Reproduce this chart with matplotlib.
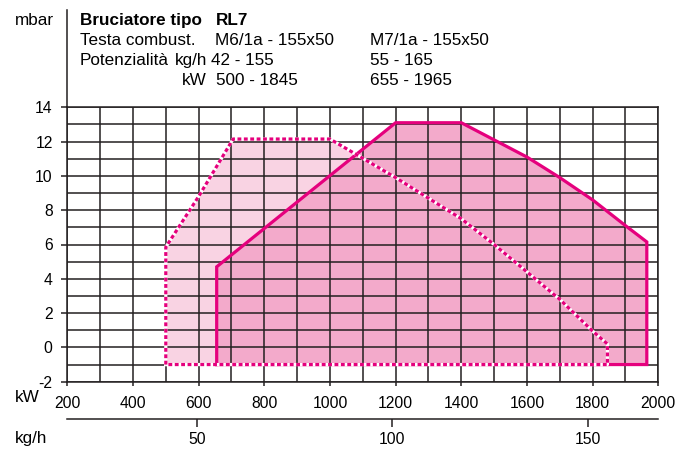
import matplotlib.pyplot as plt
from matplotlib.lines import Line2D
from matplotlib.ticker import MultipleLocator

plt.rcParams['font.family'] = ['Liberation Sans', 'DejaVu Sans']
plt.rcParams['axes.unicode_minus'] = False

# M6/1a - 155x50 (dotted)
m6_kw = [500, 500, 600, 705, 1000, 1200, 1400, 1500, 1600, 1700, 1800, 1845, 1845]
m6_mbar = [-1, 5.85, 8.8, 12.15, 12.15, 9.9, 7.5, 6.0, 4.4, 2.8, 0.95, 0.2, -1]

# M7/1a - 155x50 (solid)
m7_kw = [655, 655, 1200, 1400, 1500, 1600, 1700, 1800, 1900, 1965, 1965]
m7_mbar = [-1, 4.7, 13.1, 13.1, 12.1, 11.1, 9.9, 8.6, 7.1, 6.15, -1]

kw_ticks = list(range(200, 2001, 200))
mbar_ticks = list(range(-2, 15, 2))
kgh_ticks = [50, 100, 150]
kw_per_kgh = 11.9

W, H = 687, 450
fig = plt.figure(figsize=(W / 100, H / 100), dpi=100)
ax = fig.add_axes([67.3 / W, 1 - 381.7 / H, (658.3 - 67.3) / W, (381.7 - 107.3) / H])

magenta = '#e5007d'
dark = '#231f20'

ax.fill(m6_kw, m6_mbar, color='#f9d3e3', lw=0, zorder=1)
ax.fill(m7_kw, m7_mbar, color='#f3aacb', lw=0, zorder=1.2)

ax.plot(m7_kw + [m7_kw[0]], m7_mbar + [m7_mbar[0]], color=magenta, lw=2.3,
        solid_joinstyle='miter', zorder=3)
ax.plot(m6_kw + [m6_kw[0]], m6_mbar + [m6_mbar[0]], color='white', lw=2.3, zorder=3.1)
ax.plot(m6_kw + [m6_kw[0]], m6_mbar + [m6_mbar[0]], color=magenta, lw=2.3,
        dashes=(1.2, 0.8), zorder=3.2)

ax.set_xlim(200, 2000)
ax.set_ylim(-2, 14)
ax.set_xticks(kw_ticks)
ax.set_yticks(mbar_ticks)
ax.xaxis.set_minor_locator(MultipleLocator(100))
ax.yaxis.set_minor_locator(MultipleLocator(1))
ax.set_axisbelow(False)
ax.grid(which='both', color=dark, lw=1.1, zorder=2)
ax.tick_params(which='major', direction='out', width=1.1, color=dark, labelsize=11.3)
ax.tick_params(axis='x', which='major', length=3, pad=7.5)
ax.tick_params(axis='y', which='major', length=4.5, pad=6)
ax.tick_params(which='minor', length=0)
for s in ax.spines.values():
    s.set_color(dark)
    s.set_linewidth(1.1)

# secondary kg/h axis
sec = ax.secondary_xaxis(-0.136, functions=(lambda x: x / kw_per_kgh,
                                            lambda x: x * kw_per_kgh))
sec.set_xticks(kgh_ticks)
sec.tick_params(direction='out', length=5.5, width=1.1, color=dark, labelsize=11.3, pad=3.5)
sec.spines['bottom'].set_color(dark)
sec.spines['bottom'].set_linewidth(1.1)

# extended left axis line
x0 = 67.3 / W
fig.add_artist(Line2D([x0, x0], [1 - 107.3 / H, 1 - 10 / H], color=dark, lw=1.1))

def px(x, y):
    return x / W, 1 - y / H

fs = 12.3
fig.text(*px(15, 25), 'mbar', fontsize=fs, va='baseline')
fig.text(*px(15, 398), 'kW', fontsize=fs, va='center')
fig.text(*px(15, 438), 'kg/h', fontsize=fs, va='center')

fig.text(*px(80, 25), 'Bruciatore tipo', fontsize=fs, weight='bold', va='baseline')
fig.text(*px(216, 25), 'RL7', fontsize=fs, weight='bold', va='baseline')
fig.text(*px(80, 45), 'Testa combust.', fontsize=fs, va='baseline')
fig.text(*px(215, 45), 'M6/1a - 155x50', fontsize=fs, va='baseline')
fig.text(*px(370, 45), 'M7/1a - 155x50', fontsize=fs, va='baseline')
fig.text(*px(80, 65), 'Potenzialità', fontsize=fs, va='baseline')
fig.text(*px(207, 65), 'kg/h', fontsize=fs, va='baseline', ha='right')
fig.text(*px(211, 65), '42 - 155', fontsize=fs, va='baseline')
fig.text(*px(370, 65), '55 - 165', fontsize=fs, va='baseline')
fig.text(*px(207, 85), 'kW', fontsize=fs, va='baseline', ha='right')
fig.text(*px(216, 85), '500 - 1845', fontsize=fs, va='baseline')
fig.text(*px(370, 85), '655 - 1965', fontsize=fs, va='baseline')

fig.savefig('out.png', dpi=100)
